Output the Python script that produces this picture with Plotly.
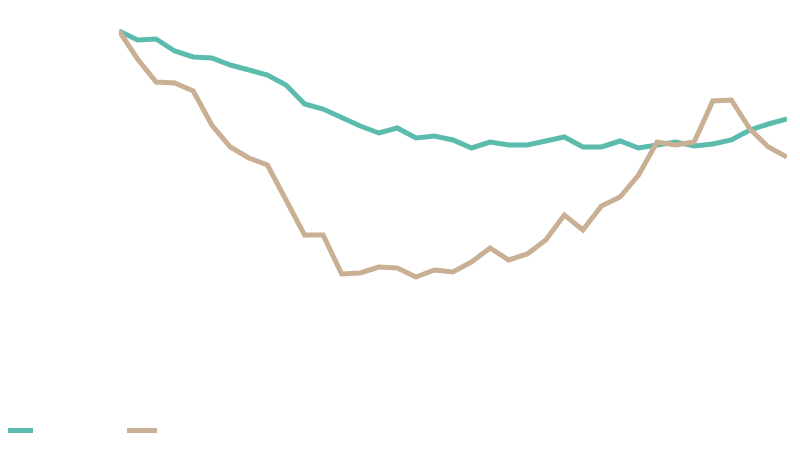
import plotly.graph_objects as go

periods = list(range(37))

teal_values = [100, 98.2, 98.4, 96.0, 94.8, 94.6, 93.2, 92.2, 91.2, 89.2, 85.4, 84.4,
               82.6, 81.0, 79.6, 80.6, 78.6, 79.0, 78.2, 76.6, 77.8, 77.2, 77.2, 78.0,
               78.8, 76.8, 76.8, 78.0, 76.6, 77.2, 77.8, 77.0, 77.4, 78.2, 80.2, 81.4, 82.4]

tan_values = [100, 94.4, 89.8, 89.6, 88.0, 81.2, 76.8, 74.6, 73.2, 66.2, 59.2, 59.2,
              51.4, 51.6, 52.8, 52.6, 50.8, 52.2, 51.8, 53.8, 56.6, 54.2, 55.4, 58.2,
              63.2, 60.2, 65.0, 66.8, 71.2, 77.8, 77.2, 77.8, 86.0, 86.2, 80.4, 76.8, 74.8]

TEAL = "#5bbcae"
TAN = "#c9b094"

fig = go.Figure()
fig.add_trace(go.Scatter(x=periods, y=teal_values, mode="lines", name="",
                         line=dict(color=TEAL, width=5)))
fig.add_trace(go.Scatter(x=periods, y=tan_values, mode="lines", name="",
                         line=dict(color=TAN, width=5)))

fig.update_layout(
    width=800, height=458,
    margin=dict(l=111, r=21, t=2, b=66, autoexpand=False),
    paper_bgcolor="white", plot_bgcolor="white",
    xaxis=dict(range=[0, 36], visible=False, showgrid=False, zeroline=False),
    yaxis=dict(range=[26.2, 104.2], visible=False, showgrid=False, zeroline=False),
    showlegend=True,
    legend=dict(orientation="h", xref="paper", yref="container",
                x=-121 / 668, y=0.0775, xanchor="left", yanchor="middle",
                entrywidth=79, entrywidthmode="pixels",
                font=dict(color="white", size=12), bgcolor="rgba(0,0,0,0)"),
)

fig.write_html("out.html")
